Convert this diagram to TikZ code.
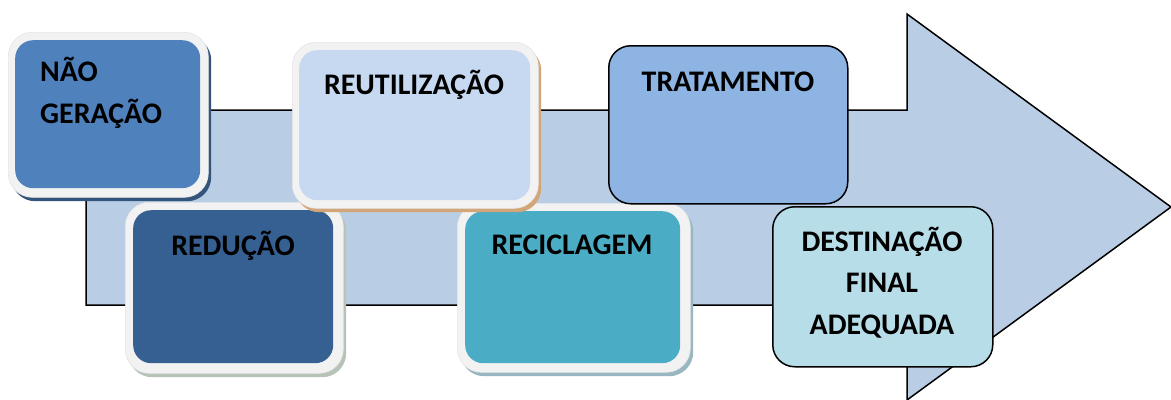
\documentclass[tikz,border=0pt]{standalone}
\usepackage{fontspec}
\setmainfont{Carlito}[Extension=.ttf, UprightFont=*-Regular, BoldFont=*-Bold]
\usetikzlibrary{calc}
\definecolor{arrowfill}{HTML}{B9CDE5}
\definecolor{framegray}{HTML}{F2F2F2}
\definecolor{naocol}{HTML}{4F81BD}
\definecolor{reducol}{HTML}{366092}
\definecolor{reutcol}{HTML}{C6D9F1}
\definecolor{reciccol}{HTML}{4BACC6}
\definecolor{tratcol}{HTML}{8DB4E2}
\definecolor{destcol}{HTML}{B7DEE8}
\tikzset{
  shadowbox/.style={rounded corners=24bp, anchor=north west, inner sep=0pt},
  framebox/.style={fill=framegray, draw=black!10, line width=0.6bp, rounded corners=24bp, anchor=north west, inner sep=0pt},
  innerbox/.style={rounded corners=18bp, anchor=north west, inner sep=0pt},
  linebox/.style={draw=black, line width=1.5bp, rounded corners=22bp, anchor=north west, inner sep=0pt},
  lbl/.style={font=\bfseries\fontsize{30}{41.2}\selectfont, inner sep=0pt, anchor=base}
}

\begin{document}
\begin{tikzpicture}[x=1bp, y=-1bp]
		%%%%% START %%%%%
		\useasboundingbox (0, 0) rectangle (1171, 399);
		
		% big arrow
		\draw[fill=arrowfill, line width=1.5bp] (86, 110) -- (907, 110) -- (907, 14) -- (1171, 207) -- (907, 400) -- (907, 305) -- (86, 305) -- cycle;
		
		% nao geracao
		\node[shadowbox, fill=black!35!naocol, minimum width=200bp, minimum height=165bp] (naoS) at (11, 36) {};
		\node[framebox, minimum width=200bp, minimum height=165bp] (naoF) at (8, 32) {};
		\node[innerbox, fill=naocol, minimum width=185bp, minimum height=148bp] (nao) at (15, 40) {};
		\node[lbl, anchor=base west, align=left] (naoT) at (40, 123) {NÃO\\GERAÇÃO};
		
		% reducao
		\node[shadowbox, fill=black!30!green!15!gray!50!white, minimum width=218bp, minimum height=171bp] (reduS) at (128, 206) {};
		\node[framebox, minimum width=218bp, minimum height=171bp] (reduF) at (125, 202) {};
		\node[innerbox, fill=reducol, minimum width=200bp, minimum height=153bp] (redu) at (133, 210) {};
		\node[lbl] (reduT) at (233, 255) {REDUÇÃO};
		
		% reciclagem
		\node[shadowbox, fill=black!35!reciccol!50!white, minimum width=233bp, minimum height=169bp] (recicS) at (460, 207) {};
		\node[framebox, minimum width=233bp, minimum height=169bp] (recicF) at (457, 203) {};
		\node[innerbox, fill=reciccol, minimum width=215bp, minimum height=152bp] (recic) at (465, 211) {};
		\node[lbl] (recicT) at (572, 254) {RECICLAGEM};
		
		% reutilizacao
		\node[shadowbox, fill=brown!70!white, minimum width=246bp, minimum height=166bp] (reutS) at (295, 46) {};
		\node[framebox, minimum width=246bp, minimum height=166bp] (reutF) at (292, 42) {};
		\node[innerbox, fill=reutcol, minimum width=231bp, minimum height=150bp] (reut) at (299, 50) {};
		\node[lbl] (reutT) at (414, 94) {REUTILIZAÇÃO};
		
		% tratamento
		\node[linebox, fill=tratcol, minimum width=239bp, minimum height=158bp] (trat) at (608, 45) {};
		\node[lbl] (tratT) at (728, 91) {TRATAMENTO};
		
		% destinacao final
		\node[linebox, fill=destcol, minimum width=220bp, minimum height=160bp] (dest) at (772, 206) {};
		\node[lbl, align=center] (destT) at (882, 334) {DESTINAÇÃO\\FINAL\\ADEQUADA};
		
		%%%%% END %%%%%
	\end{tikzpicture}
\end{document}
